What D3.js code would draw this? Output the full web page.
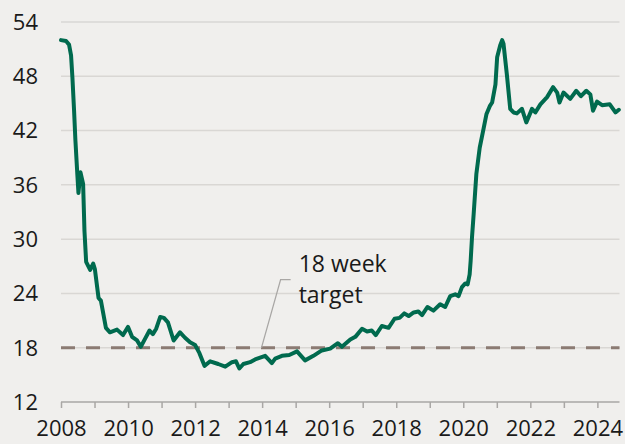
<!DOCTYPE html>
<html>
<head>
<meta charset="utf-8">
<script src="https://cdn.jsdelivr.net/npm/d3@7"></script>
<style>
  html, body { margin: 0; padding: 0; background: #f0efed; }
  text { font-family: "Open Sans", "Noto Sans", sans-serif; fill: #1a1a1a; }
</style>
</head>
<body>
<div id="chart"></div>
<script>
// Median waiting time (weeks)
var dates = [
  2008.00, 2008.15, 2008.24, 2008.30, 2008.34, 2008.39, 2008.43, 2008.49, 2008.52, 2008.58,
  2008.66, 2008.70, 2008.75, 2008.87, 2008.96, 2009.01, 2009.12, 2009.19, 2009.34, 2009.46,
  2009.67, 2009.85, 2010.00, 2010.12, 2010.27, 2010.38, 2010.51, 2010.64, 2010.74, 2010.84,
  2010.96, 2011.07, 2011.19, 2011.36, 2011.55, 2011.70, 2011.85, 2012.00, 2012.13, 2012.28,
  2012.45, 2012.69, 2012.90, 2013.10, 2013.22, 2013.32, 2013.44, 2013.64, 2013.79, 2014.09,
  2014.29, 2014.39, 2014.59, 2014.81, 2015.04, 2015.28, 2015.53, 2015.78, 2016.03, 2016.26,
  2016.38, 2016.63, 2016.78, 2016.98, 2017.13, 2017.27, 2017.39, 2017.57, 2017.77, 2017.95,
  2018.10, 2018.24, 2018.37, 2018.52, 2018.66, 2018.77, 2018.93, 2019.11, 2019.31, 2019.46,
  2019.61, 2019.76, 2019.86, 2019.96, 2020.06, 2020.13, 2020.19, 2020.22, 2020.26, 2020.31,
  2020.39, 2020.49, 2020.61, 2020.69, 2020.79, 2020.86, 2020.96, 2021.01, 2021.10, 2021.16,
  2021.20, 2021.30, 2021.40, 2021.50, 2021.60, 2021.75, 2021.88, 2022.05, 2022.15, 2022.30,
  2022.50, 2022.68, 2022.80, 2022.87, 2022.99, 2023.19, 2023.37, 2023.51, 2023.67, 2023.79,
  2023.87, 2023.99, 2024.14, 2024.37, 2024.54, 2024.64
];
var weeks = [
  52.0, 51.9, 51.5, 50.3, 47.9, 44.2, 40.9, 37.0, 35.1, 37.4,
  36.1, 30.9, 27.5, 26.6, 27.3, 26.7, 23.5, 23.2, 20.2, 19.7,
  20.0, 19.4, 20.3, 19.2, 18.8, 18.1, 19.0, 19.9, 19.5, 20.1,
  21.4, 21.3, 20.8, 18.8, 19.7, 19.1, 18.6, 18.3, 17.4, 16.0,
  16.5, 16.2, 15.9, 16.4, 16.5, 15.7, 16.2, 16.4, 16.7, 17.1,
  16.3, 16.8, 17.1, 17.2, 17.6, 16.6, 17.1, 17.7, 17.9, 18.5,
  18.1, 18.9, 19.2, 20.1, 19.8, 19.9, 19.4, 20.4, 20.2, 21.2,
  21.3, 21.8, 21.5, 21.9, 22.0, 21.6, 22.5, 22.1, 22.8, 22.5,
  23.7, 23.9, 23.7, 24.7, 25.1, 25.0, 26.1, 27.6, 30.2, 32.8,
  37.2, 40.1, 42.3, 43.8, 44.7, 45.1, 47.1, 50.1, 51.4, 52.0,
  51.6, 48.2, 44.4, 44.0, 43.9, 44.4, 42.9, 44.4, 44.0, 44.9,
  45.7, 46.8, 46.2, 45.1, 46.2, 45.5, 46.4, 45.8, 46.4, 46.0,
  44.2, 45.2, 44.8, 44.9, 44.0, 44.3
];

var yTicks = [12, 18, 24, 30, 36, 42, 48, 54];
var xTickYears = d3.range(2008, 2025);
var xLabelYears = [2008, 2010, 2012, 2014, 2016, 2018, 2020, 2022, 2024];
var target = 18;
var targetLabel = ['18 week', 'target'];

var fullWidth = 625, fullHeight = 444;
var margin = { top: 22, right: 5, bottom: 42, left: 61 };

var svg = d3.select('#chart').append('svg')
    .attr('width', fullWidth)
    .attr('height', fullHeight)
    .append('g')
    .attr('transform', 'translate(' + margin.left + ',' + margin.top + ')');

var xEnd = 2024.66;
var x = d3.scaleLinear().domain([2008, xEnd]).range([0, 558.5]);
var y = d3.scaleLinear().domain([12, 54]).range([380, 0]);

// Gridlines
svg.append('g')
    .selectAll('line')
    .data(yTicks.filter(function (d) { return d > 12; }))
    .enter().append('line')
    .attr('x1', 0)
    .attr('x2', x(xEnd))
    .attr('y1', function (d) { return y(d); })
    .attr('y2', function (d) { return y(d); })
    .style('stroke', '#d9d7d4')
    .style('stroke-width', 1.5);

// Y axis labels
svg.append('g')
    .selectAll('text')
    .data(yTicks)
    .enter().append('text')
    .attr('x', -23)
    .attr('y', function (d) { return y(d); })
    .attr('dy', '0.36em')
    .style('text-anchor', 'end')
    .style('font-size', '22px')
    .text(function (d) { return d; });

// X axis
var xAxis = d3.axisBottom(x)
    .tickValues(xTickYears)
    .tickSize(6)
    .tickFormat(function (d) { return xLabelYears.indexOf(d) >= 0 ? d : ''; });

var xAxisEle = svg.append('g')
    .attr('transform', 'translate(0,' + y(12) + ')')
    .call(xAxis);
xAxisEle.select('.domain')
    .attr('d', 'M0,0H' + x(xEnd))
    .style('stroke', '#a9a7a5')
    .style('stroke-width', 1.5);
xAxisEle.selectAll('.tick line')
    .style('stroke', '#a9a7a5')
    .style('stroke-width', 1.5);
xAxisEle.selectAll('.tick text')
    .attr('y', 18)
    .style('font-size', '22px')
    .style('font-family', '"Open Sans", "Noto Sans", sans-serif')
    .style('fill', '#1a1a1a');

// Target line
svg.append('line')
    .attr('x1', 0)
    .attr('x2', x(xEnd))
    .attr('y1', y(target))
    .attr('y2', y(target))
    .style('stroke', '#8b7b73')
    .style('stroke-width', 3)
    .style('stroke-dasharray', '14,11');

// Annotation leader
svg.append('path')
    .attr('d', 'M' + x(2013.98) + ',' + y(target) + 'L' + x(2014.55) + ',' + (y(target) - 68) + 'H' + x(2014.85))
    .style('fill', 'none')
    .style('stroke', '#a9a7a5')
    .style('stroke-width', 1.2);

svg.append('g')
    .selectAll('text')
    .data(targetLabel)
    .enter().append('text')
    .attr('x', x(2014.85) + 8)
    .attr('y', function (d, i) { return y(target) - 76 + i * 31; })
    .style('font-size', '23px')
    .text(function (d) { return d; });

// Waiting time line
var line = d3.line()
    .x(function (d, i) { return x(dates[i]); })
    .y(function (d) { return y(d); })
    .curve(d3.curveLinear);

svg.append('path')
    .datum(weeks)
    .attr('d', line)
    .style('fill', 'none')
    .style('stroke', '#006a4e')
    .style('stroke-width', 4)
    .style('stroke-linejoin', 'round')
    .style('stroke-linecap', 'round');
</script>
</body>
</html>
